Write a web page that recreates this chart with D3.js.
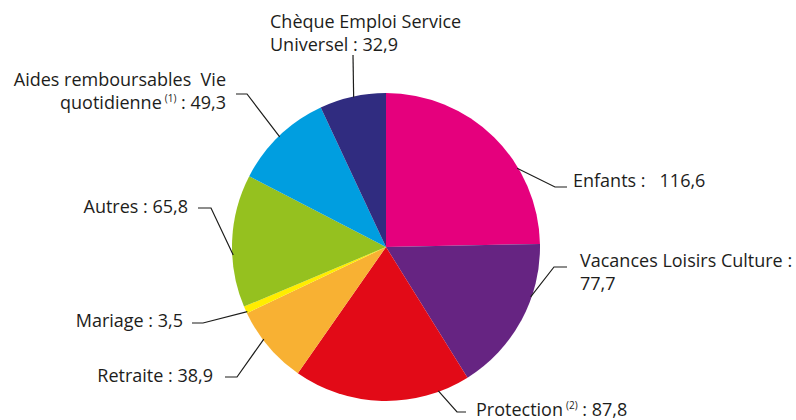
<!DOCTYPE html>
<html>
<head>
<meta charset="utf-8">
<script src="https://cdn.jsdelivr.net/npm/d3@7"></script>
<style>
  body { margin: 0; background: #fff; }
  svg text { font-family: "Open Sans", "Noto Sans", sans-serif; font-size: 18px; fill: #1d1d1b; white-space: pre; }
</style>
</head>
<body>
<div id="chart"></div>
<script>
var categories = ["Enfants", "Vacances Loisirs Culture", "Protection", "Retraite",
                  "Mariage", "Autres", "Aides remboursables Vie quotidienne", "Chèque Emploi Service Universel"];
var values = [116.6, 77.7, 87.8, 38.9, 3.5, 65.8, 49.3, 32.9];
var colors = ["#e5007d", "#662482", "#e20a17", "#f8b133", "#ffed00", "#95c11f", "#009ee0", "#302c80"];

// label text, split per line; second part = footnote mark
var labelLines = [
    [["Enfants :   116,6"]],
    [["Vacances Loisirs Culture :"], ["77,7"]],
    [["Protection", "(2)", " : 87,8"]],
    [["Retraite : 38,9"]],
    [["Mariage : 3,5"]],
    [["Autres : 65,8"]],
    [["Aides remboursables  Vie"], ["quotidienne", "(1)", " : 49,3"]],
    [["Chèque Emploi Service"], ["Universel : 32,9"]]
];

var width = 796, height = 420;
var cx = 386, cy = 247, radius = 154;

// leader layout, relative to pie centre: angle of leader start (deg),
// elbow, end of horizontal tick, text x and first baseline
var leaders = [
    {a: 59,    elbow: [169, -60],  end: [181, -60],  tx: 187,  ty: -60,  anchor: "start"},
    {a: 109,   elbow: [168, 20],   end: [181, 20],   tx: 194,  ty: 20,   anchor: "start"},
    {a: 160,   elbow: [71, 165],   end: [80, 165],   tx: 90,   ty: 169,  anchor: "start"},
    {a: 233,   elbow: [-149, 130], end: [-161, 130], tx: -173, ty: 135,  anchor: "end"},
    {a: 245,   elbow: [-183, 76],  end: [-194, 76],  tx: -203, ty: 80,   anchor: "end"},
    {a: 267,   elbow: [-175, -39], end: [-188, -39], tx: -198, ty: -34,  anchor: "end"},
    {a: 316,   elbow: [-139, -153],end: [-150, -153],tx: -160, ty: -161, anchor: "end"},
    {a: 347.8, elbow: [-33, -192], end: [-33, -192], tx: -116, ty: -219, anchor: "start"}
];

var svg = d3.select("#chart").append("svg")
    .attr("width", width).attr("height", height);

var g = svg.append("g").attr("transform", "translate(" + cx + "," + cy + ")");

var pie = d3.pie().sort(null).value(function(d) { return d; });
var arc = d3.arc().innerRadius(0).outerRadius(radius);
var arcs = pie(values);

g.selectAll("path.slice")
    .data(arcs)
    .enter().append("path")
    .attr("class", "slice")
    .attr("d", arc)
    .attr("fill", function(d, i) { return colors[i]; });

var line = d3.line();

g.selectAll("path.leader")
    .data(leaders)
    .enter().append("path")
    .attr("class", "leader")
    .attr("fill", "none")
    .attr("stroke", "#1d1d1b")
    .attr("stroke-width", 1.2)
    .attr("d", function(d) {
        var p0 = d3.pointRadial(d.a * Math.PI / 180, radius - 1);
        return line([p0, d.elbow, d.end]);
    });

var labels = g.selectAll("text.label")
    .data(leaders)
    .enter().append("text")
    .attr("class", "label")
    .attr("text-anchor", function(d) { return d.anchor; });

labels.each(function(d, i) {
    var t = d3.select(this);
    labelLines[i].forEach(function(parts, j) {
        var y = d.ty + j * 23;
        parts.forEach(function(p, k) {
            var ts = t.append("tspan");
            if (k === 0) ts.attr("x", d.tx).attr("y", y);
            if (k === 1) {
                ts.attr("font-size", 10).attr("dx", 3).attr("dy", -7).text(p);
            } else if (k === 2) {
                ts.attr("dy", 7).text(p);
            } else {
                ts.text(p);
            }
        });
    });
});
</script>
</body>
</html>
